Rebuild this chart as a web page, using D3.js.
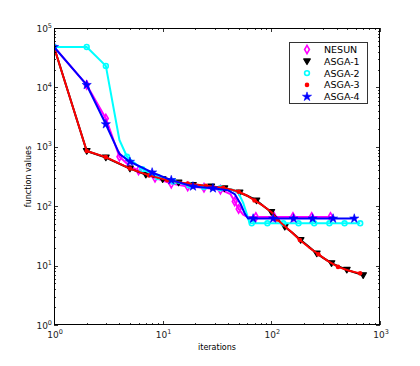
<!DOCTYPE html>
<html lang="en">
<head>
  <meta charset="UTF-8">
  <title>function values vs iterations</title>
  <style>
    body { margin: 0; background: #fff; }
    svg { font-family: "DejaVu Sans", sans-serif; }
    .frame { fill: none; stroke: #000; stroke-width: 1; }
    .tick { stroke: #000; stroke-width: 0.8; }
    .ticklabel { font-size: 9px; fill: #222; }
    .axislabel { font-size: 8px; fill: #000; }
    .legend text { font-size: 9.5px; fill: #000; }
  </style>
</head>
<body>
<svg id="chart" width="420" height="366"></svg>
<script src="https://cdn.jsdelivr.net/npm/d3@7"></script>
<script>
// series data (iteration, function value)
const nesunIt   = [1, 2, 3, 4, 5, 6, 8.5, 12, 17, 24, 34, 42, 46, 50, 55, 60, 72, 106, 158, 235, 350, 380];
const nesunVal  = [48000, 11000, 3000, 680, 470, 400, 300, 240, 215, 205, 190, 160, 120, 90, 72, 66, 66, 66, 66, 66, 66, 66];
const nesunMarks = [1, 2, 3, 4, 6, 8.5, 12, 17, 24, 34, 46, 50, 72, 106, 158, 235, 350];

const asga1It   = [1, 2, 3, 5, 7, 10, 14, 19, 28, 37, 43, 51, 60, 73, 85, 100, 115, 133, 155, 186, 220, 262, 300, 358, 420, 495, 580, 700];
const asga1Val  = [48000, 850, 660, 430, 340, 285, 250, 228, 215, 200, 190, 170, 150, 125, 100, 80, 60, 45, 36, 27, 21, 16, 13.5, 11, 9.6, 8.5, 7.7, 6.9];
const asga1Marks = [2, 3, 5, 7, 10, 14, 19, 28, 37, 51, 73, 100, 133, 186, 262, 358, 495, 700];

const asga2It   = [1, 2, 3, 4, 4.7, 6.5, 9, 12.5, 17.5, 24, 34, 44, 50, 55, 60, 63, 66, 92, 129, 178, 248, 342, 472, 658];
const asga2Val  = [48000, 48000, 23000, 1300, 680, 420, 310, 260, 225, 210, 200, 190, 165, 115, 70, 52, 51.5, 51.5, 51.5, 51.5, 51.5, 51.5, 51.5, 51.5];
const asga2Marks = [1, 2, 3, 4.7, 6.5, 9, 12.5, 17.5, 24, 34, 66, 92, 129, 178, 248, 342, 472, 658];

const asga3It   = [1, 2, 3, 5, 7.5, 11, 17, 25, 36, 43, 50, 60, 70, 85, 100, 113, 133, 155, 183, 220, 271, 330, 411, 520, 656];
const asga3Val  = [48000, 850, 670, 430, 330, 275, 240, 220, 205, 190, 175, 150, 125, 100, 80, 60, 46, 36, 27, 20.5, 15.5, 12, 9.5, 8.2, 7.4];
const asga3Marks = [2, 3, 5, 7.5, 11, 17, 25, 36, 50, 70, 113, 183, 271, 411, 656];

const asga4It   = [1, 2, 3, 4, 5, 8, 12, 19, 29, 40, 46, 52, 57, 61, 68, 104, 160, 240, 370, 580];
const asga4Val  = [48000, 11000, 2400, 760, 560, 370, 275, 215, 200, 185, 160, 110, 75, 62, 62, 62, 62, 62, 62, 62];
const asga4Marks = [1, 2, 3, 5, 8, 12, 19, 29, 68, 104, 160, 240, 370, 580];

const seriesNames = ["NESUN", "ASGA-1", "ASGA-2", "ASGA-3", "ASGA-4"];
const xTickValues = [1, 10, 100, 1000];
const yTickValues = [1, 10, 100, 1000, 10000, 100000];

const svg = d3.select("#chart");
const mLeft = 54, mRight = 380, mTop = 28, mBottom = 325;

const x = d3.scaleLog().domain([1, 1000]).range([mLeft, mRight]);
const y = d3.scaleLog().domain([1, 1e5]).range([mBottom, mTop]);

// marker drawers
const triDown = "M-3.3,-2.4L3.3,-2.4L0,3.2Z";
const styles = {
  "NESUN":  { line: "#ff00ff", draw: g => g.append("path").attr("d", d3.symbol(d3.symbolDiamond, 20)()).attr("fill", "none").attr("stroke", "#ff00ff").attr("stroke-width", 1.6) },
  "ASGA-1": { line: "#000", draw: g => g.append("path").attr("d", triDown).attr("fill", "#000").attr("stroke", "#000").attr("stroke-width", 1.2).attr("stroke-linejoin", "round") },
  "ASGA-2": { line: "#00ffff", draw: g => g.append("circle").attr("r", 2.4).attr("fill", "none").attr("stroke", "#00ffff").attr("stroke-width", 1.6) },
  "ASGA-3": { line: "#ff0000", draw: g => g.append("circle").attr("r", 2.3).attr("fill", "#ff0000") },
  "ASGA-4": { line: "#0000ff", draw: g => g.append("path").attr("d", d3.symbol(d3.symbolStar, 26)()).attr("fill", "#0000ff").attr("stroke", "#0000ff").attr("stroke-width", 0.6) }
};

const data = [
  { name: "NESUN",  it: nesunIt, val: nesunVal, marks: nesunMarks },
  { name: "ASGA-1", it: asga1It, val: asga1Val, marks: asga1Marks },
  { name: "ASGA-2", it: asga2It, val: asga2Val, marks: asga2Marks },
  { name: "ASGA-3", it: asga3It, val: asga3Val, marks: asga3Marks },
  { name: "ASGA-4", it: asga4It, val: asga4Val, marks: asga4Marks }
];

// clip to axes
svg.append("clipPath").attr("id", "clip")
  .append("rect").attr("x", mLeft).attr("y", mTop).attr("width", mRight - mLeft).attr("height", mBottom - mTop);

const line = d3.line().x(d => x(d[0])).y(d => y(d[1])).curve(d3.curveLinear);
const plot = svg.append("g").attr("clip-path", "url(#clip)");

data.forEach(s => {
  const pts = s.it.map((v, i) => [v, s.val[i]]);
  const st = styles[s.name];
  plot.append("path").datum(pts)
    .attr("d", line)
    .attr("fill", "none")
    .attr("stroke", st.line)
    .attr("stroke-width", 2)
    .attr("stroke-linejoin", "round");
  const markSet = new Set(s.marks);
  pts.filter(p => markSet.has(p[0])).forEach(p => {
    const g = plot.append("g").attr("transform", `translate(${x(p[0])},${y(p[1])})`);
    st.draw(g);
  });
});

// frame
svg.append("rect").attr("class", "frame")
  .attr("x", mLeft + 0.5).attr("y", mTop + 0.5)
  .attr("width", mRight - mLeft - 1).attr("height", mBottom - mTop - 1);

// ticks (inward, all four sides)
const minor = [];
for (let d = 0; d < 5; d++) for (let m = 2; m <= 9; m++) minor.push(m * Math.pow(10, d));
const ticks = svg.append("g");
xTickValues.forEach(v => {
  const px = Math.round(x(v)) + 0.5;
  ticks.append("line").attr("class", "tick").attr("x1", px).attr("x2", px).attr("y1", mBottom).attr("y2", mBottom - 4);
  ticks.append("line").attr("class", "tick").attr("x1", px).attr("x2", px).attr("y1", mTop).attr("y2", mTop + 4);
});
minor.filter(v => v < 1000).forEach(v => {
  const px = Math.round(x(v)) + 0.5;
  ticks.append("line").attr("class", "tick").attr("x1", px).attr("x2", px).attr("y1", mBottom).attr("y2", mBottom - 2);
  ticks.append("line").attr("class", "tick").attr("x1", px).attr("x2", px).attr("y1", mTop).attr("y2", mTop + 2);
});
yTickValues.forEach(v => {
  const py = Math.round(y(v)) + 0.5;
  ticks.append("line").attr("class", "tick").attr("y1", py).attr("y2", py).attr("x1", mLeft).attr("x2", mLeft + 4);
  ticks.append("line").attr("class", "tick").attr("y1", py).attr("y2", py).attr("x1", mRight).attr("x2", mRight - 4);
});
minor.forEach(v => {
  const py = Math.round(y(v)) + 0.5;
  ticks.append("line").attr("class", "tick").attr("y1", py).attr("y2", py).attr("x1", mLeft).attr("x2", mLeft + 2);
  ticks.append("line").attr("class", "tick").attr("y1", py).attr("y2", py).attr("x1", mRight).attr("x2", mRight - 2);
});

// tick labels as 10^n
function powLabel(sel, v) {
  const e = Math.round(Math.log10(v));
  sel.append("tspan").text("10");
  sel.append("tspan").attr("dy", -4).attr("font-size", "6.5px").text(e);
}
xTickValues.forEach(v => {
  const t = svg.append("text").attr("class", "ticklabel")
    .attr("x", x(v) + 1).attr("y", mBottom + 13).attr("text-anchor", "middle");
  powLabel(t, v);
});
yTickValues.forEach(v => {
  const t = svg.append("text").attr("class", "ticklabel")
    .attr("x", mLeft - 2).attr("y", y(v) + 3.5).attr("text-anchor", "end");
  powLabel(t, v);
});

// axis labels
svg.append("text").attr("class", "axislabel")
  .attr("x", (mLeft + mRight) / 2).attr("y", 350).attr("text-anchor", "middle")
  .text("iterations");
svg.append("text").attr("class", "axislabel")
  .attr("transform", `translate(31,${(mTop + mBottom) / 2}) rotate(-90)`)
  .attr("text-anchor", "middle")
  .text("function values");

// legend
const lg = svg.append("g").attr("class", "legend");
lg.append("rect").attr("x", 289.5).attr("y", 42.5).attr("width", 78).attr("height", 61)
  .attr("fill", "#fff").attr("stroke", "#333").attr("stroke-width", 1);
seriesNames.forEach((n, i) => {
  const yy = 49.5 + i * 11.8;
  const g = lg.append("g").attr("transform", `translate(307,${yy})`);
  styles[n].draw(g);
  lg.append("text").attr("x", 324).attr("y", yy + 3.5).text(n);
});
</script>
</body>
</html>
